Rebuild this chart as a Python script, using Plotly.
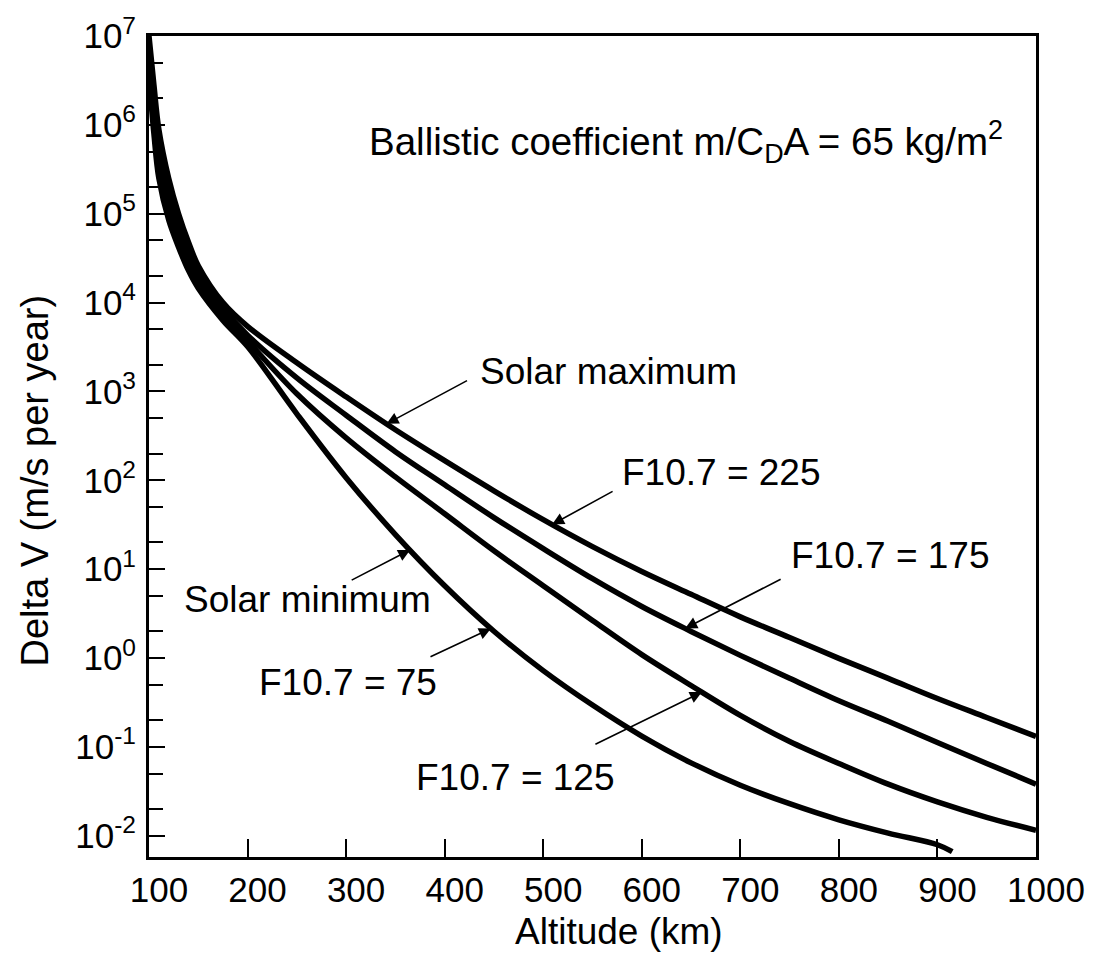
import numpy as np
import plotly.graph_objects as go

# Altitude grids (km) for the drag delta-V curves
altitude_km = [100, 105, 110, 120, 130, 140, 150, 175, 200, 250, 300, 350, 400,
               450, 500, 550, 600, 650, 700, 750, 800, 850, 900, 950, 1000]
altitude_f75_km = [100, 105, 110, 120, 130, 140, 150, 175, 200, 250, 300, 350, 400,
                   450, 500, 550, 600, 650, 700, 750, 800, 850, 900, 915]

# Delta V (m/s per year) for each solar flux level
dv_f225 = [1.0e7, 2.8e6, 8.9e5, 2.5e5, 1.0e5, 4.8e4, 2.6e4, 1.0e4, 5.4e3, 2.1e3,
           8.7e2, 3.7e2, 1.66e2, 76, 36, 17.9, 9.4, 5.2, 2.9, 1.70, 0.99, 0.59,
           0.35, 0.214, 0.131]
dv_f175 = [7.9e6, 2.0e6, 6.0e5, 1.78e5, 7.6e4, 3.8e4, 2.2e4, 8.7e3, 4.3e3, 1.42e3,
           5.4e2, 2.1e2, 89, 38, 17.0, 7.8, 3.8, 1.99, 1.07, 0.59, 0.33, 0.194,
           0.112, 0.065, 0.038]
dv_f125 = [5.6e6, 1.32e6, 4.0e5, 1.26e5, 5.8e4, 3.0e4, 1.82e4, 7.4e3, 3.7e3, 9.4e2,
           3.0e2, 1.09e2, 42, 16.1, 6.5, 2.64, 1.09, 0.49, 0.226, 0.115, 0.065,
           0.038, 0.024, 0.0161, 0.0115]
dv_f75 = [3.5e6, 7.9e5, 2.5e5, 8.5e4, 4.2e4, 2.3e4, 1.45e4, 6.3e3, 3.2e3, 5.6e2,
          1.07e2, 24.5, 6.5, 2.0, 0.72, 0.295, 0.132, 0.066, 0.037, 0.0229, 0.0151,
          0.0107, 0.0079, 0.0066]

y_tick_exponents = [-2, -1, 0, 1, 2, 3, 4, 5, 6, 7]
x_tick_values = [100, 200, 300, 400, 500, 600, 700, 800, 900, 1000]

FONT = "Liberation Sans, Arial, Helvetica, sans-serif"
BLACK = "#000000"

series = [
    ("F10.7 = 225", altitude_km, dv_f225),
    ("F10.7 = 175", altitude_km, dv_f175),
    ("F10.7 = 125", altitude_km, dv_f125),
    ("F10.7 = 75", altitude_f75_km, dv_f75),
]

fig = go.Figure()
for name, alt, dv in series:
    fig.add_trace(go.Scatter(
        x=alt, y=dv, mode="lines", name=name,
        line=dict(color=BLACK, width=5.5, shape="spline", smoothing=1.0),
        hoverinfo="x+y+name",
    ))


def point_on(alt, dv, at_km):
    """Point on a curve at a given altitude, in log-axis annotation units."""
    return at_km, float(np.interp(at_km, alt, np.log10(dv)))


# Callout arrows: (curve, altitude of the tip, tail offset in px)
arrows = [
    (altitude_km, dv_f225, 341, 82, -44),      # Solar maximum
    (altitude_km, dv_f225, 509, 62, -34),      # F10.7 = 225
    (altitude_km, dv_f175, 644, 97, -50),      # F10.7 = 175
    (altitude_f75_km, dv_f75, 365, -60, 31),   # Solar minimum
    (altitude_f75_km, dv_f75, 447, -62, 29),   # F10.7 = 75
    (altitude_km, dv_f125, 661, -108, 53),     # F10.7 = 125
]

annotations = []
for alt, dv, at_km, ax, ay in arrows:
    x, ylog = point_on(alt, dv, at_km)
    annotations.append(dict(
        x=x, y=ylog, xref="x", yref="y", text="", showarrow=True,
        ax=ax, ay=ay, arrowhead=2, arrowsize=1.5, arrowwidth=1.6,
        arrowcolor=BLACK, standoff=0,
    ))

# Curve labels (x in km, y as log10 of delta V)
labels = [
    ("Solar maximum", 566, 3.22, "center", 37),
    ("F10.7 = 225", 681, 2.09, "center", 37),
    ("F10.7 = 175", 852, 1.15, "center", 37),
    ("Solar minimum", 261, 0.66, "center", 37),
    ("F10.7 = 75", 302, -0.28, "center", 37),
    ("F10.7 = 125", 472, -1.34, "center", 37),
    ("Ballistic coefficient m/C<sub>D</sub>A = 65 kg/m<sup>2</sup>", 321, 5.81, "left", 38.5),
]
for text, x, ylog, anchor, size in labels:
    annotations.append(dict(
        x=x, y=ylog, xref="x", yref="y", text=text, showarrow=False,
        xanchor=anchor, yanchor="middle",
        font=dict(family=FONT, size=size, color=BLACK),
    ))

# Axis titles
annotations.append(dict(
    text="Altitude (km)", xref="paper", yref="paper", x=0.530, y=-0.091,
    xanchor="center", yanchor="middle", showarrow=False,
    font=dict(family=FONT, size=37, color=BLACK),
))
annotations.append(dict(
    text="Delta V (m/s per year)", xref="paper", yref="paper", x=-0.129, y=0.458,
    xanchor="center", yanchor="middle", showarrow=False, textangle=-90,
    font=dict(family=FONT, size=38, color=BLACK),
))

fig.update_layout(
    width=1097, height=954,
    margin=dict(l=149, r=56, t=35, b=97, pad=0),
    paper_bgcolor="white", plot_bgcolor="white",
    showlegend=False,
    font=dict(family=FONT, size=35, color=BLACK),
    annotations=annotations,
)

fig.update_xaxes(
    range=[100, 1000], showgrid=False, zeroline=False,
    showline=True, linecolor=BLACK, linewidth=3, mirror=True,
    ticks="inside", ticklen=18, tickwidth=1.5, tickcolor=BLACK,
    tickvals=x_tick_values, ticktext=[str(v) for v in x_tick_values],
    tickfont=dict(family=FONT, size=35, color=BLACK),
    ticklabelshift=10,
)

fig.update_yaxes(
    type="log", range=[-2.24, 7.0], showgrid=False, zeroline=False,
    showline=True, linecolor=BLACK, linewidth=3, mirror=True,
    ticks="inside", ticklen=16, tickwidth=2, tickcolor=BLACK,
    tickvals=[10.0 ** e for e in y_tick_exponents],
    ticktext=[f"10<sup>{e}</sup>" for e in y_tick_exponents],
    tickfont=dict(family=FONT, size=35, color=BLACK),
    ticklabelstandoff=3,
    minor=dict(ticks="inside", ticklen=14, tickwidth=1.5, tickcolor=BLACK, showgrid=False),
)

fig.write_html("out.html")
